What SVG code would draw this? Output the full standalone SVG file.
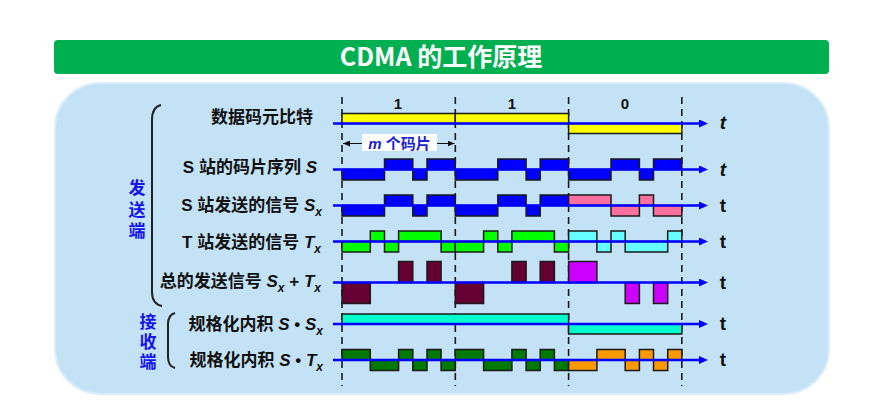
<svg xmlns="http://www.w3.org/2000/svg" width="896" height="404" viewBox="0 0 896 404">
<defs>
<style>
.lbl{font-family:"Liberation Sans","Noto Sans CJK SC",sans-serif;font-weight:bold;font-size:17px;fill:#111;}
.it{font-style:italic;}
.sub{font-size:12px;font-style:italic;}
.grp{font-family:"Noto Sans CJK SC",sans-serif;font-weight:bold;font-size:17px;fill:#1414F0;writing-mode:vertical-rl;}
.tl{font-family:"Liberation Sans",sans-serif;font-weight:bold;font-size:19px;fill:#111;text-anchor:middle;}
.bit{font-family:"Liberation Sans",sans-serif;font-weight:bold;font-size:15px;fill:#111;text-anchor:middle;}
.w rect{stroke:#1a1a1a;stroke-width:1.5;}
.axis{stroke:#0000FF;stroke-width:2.5;marker-end:url(#ah);}
.dash{stroke:#1a1a1a;stroke-width:1.6;stroke-dasharray:7 5;}
</style>
<marker id="ah" markerUnits="userSpaceOnUse" markerWidth="10" markerHeight="8" refX="1" refY="4" orient="auto" viewBox="0 0 10 8">
<path d="M0,0 L9,4 L0,8 Z" fill="#0000FF"/>
</marker>
<marker id="sa" markerUnits="userSpaceOnUse" markerWidth="7" markerHeight="6" refX="7" refY="3" orient="auto-start-reverse" viewBox="0 0 7 6">
<path d="M0,0 L7,3 L0,6 Z" fill="#111"/>
</marker>
</defs>

<g id="background">
<rect x="55" y="83" width="774" height="311" rx="45" fill="#C4E2F6" stroke="#DCEEFB" stroke-width="2"/>
</g>

<g id="title">
<rect x="54" y="40" width="775" height="34" rx="4" fill="#00B050"/>
<text x="441" y="66" font-family="Noto Sans CJK SC,sans-serif" font-weight="bold" font-size="25" fill="#fff" text-anchor="middle">CDMA 的工作原理</text>
</g>

<g id="dashes">
<line class="dash" x1="342" y1="97" x2="342" y2="386"/>
<line class="dash" x1="455.3" y1="97" x2="455.3" y2="386"/>
<line class="dash" x1="568.6" y1="97" x2="568.6" y2="386"/>
<line class="dash" x1="681.8" y1="97" x2="681.8" y2="386"/>
</g>

<g id="bits">
<text class="bit" x="398" y="109">1</text>
<text class="bit" x="512" y="109">1</text>
<text class="bit" x="625" y="109">0</text>
</g>

<g id="chip-span">
<line x1="343" y1="143.5" x2="454.5" y2="143.5" stroke="#111" stroke-width="1" marker-start="url(#sa)" marker-end="url(#sa)"/>
<rect x="362" y="134" width="75" height="17" fill="#fff"/>
<text x="399.5" y="149" font-family="Liberation Sans,Noto Sans CJK SC,sans-serif" font-weight="bold" font-size="15" fill="#1E1ED2" text-anchor="middle"><tspan font-style="italic">m</tspan> 个码片</text>
</g>

<g id="row-data" class="w">
<rect x="342" y="113.5" width="113.3" height="10" fill="#FFFF00"/>
<rect x="455.3" y="113.5" width="113.3" height="10" fill="#FFFF00"/>
<rect x="568.6" y="123.5" width="113.2" height="10" fill="#FFFF00"/>
</g>

<g id="row-S" class="w" fill="#0000FF">
<rect x="342" y="169.5" width="42.5" height="10.5"/>
<rect x="384.5" y="159" width="28.3" height="10.5"/>
<rect x="412.8" y="169.5" width="14.2" height="10.5"/>
<rect x="427" y="159" width="28.3" height="10.5"/>
<rect x="455.3" y="169.5" width="42.5" height="10.5"/>
<rect x="497.8" y="159" width="28.3" height="10.5"/>
<rect x="526.1" y="169.5" width="14.1" height="10.5"/>
<rect x="540.2" y="159" width="28.4" height="10.5"/>
<rect x="568.6" y="169.5" width="42.4" height="10.5"/>
<rect x="611" y="159" width="28.4" height="10.5"/>
<rect x="639.4" y="169.5" width="14.1" height="10.5"/>
<rect x="653.5" y="159" width="28.3" height="10.5"/>
</g>

<g id="row-Sx" class="w">
<g fill="#0000FF">
<rect x="342" y="205.5" width="42.5" height="10.5"/>
<rect x="384.5" y="195" width="28.3" height="10.5"/>
<rect x="412.8" y="205.5" width="14.2" height="10.5"/>
<rect x="427" y="195" width="28.3" height="10.5"/>
<rect x="455.3" y="205.5" width="42.5" height="10.5"/>
<rect x="497.8" y="195" width="28.3" height="10.5"/>
<rect x="526.1" y="205.5" width="14.1" height="10.5"/>
<rect x="540.2" y="195" width="28.4" height="10.5"/>
</g>
<g fill="#FF6F9F">
<rect x="568.6" y="195" width="42.4" height="10.5"/>
<rect x="611" y="205.5" width="28.4" height="10.5"/>
<rect x="639.4" y="195" width="14.1" height="10.5"/>
<rect x="653.5" y="205.5" width="28.3" height="10.5"/>
</g>
</g>

<g id="row-Tx" class="w">
<g fill="#00FF00">
<rect x="342" y="241.5" width="28.3" height="10.5"/>
<rect x="370.3" y="231" width="14.2" height="10.5"/>
<rect x="384.5" y="241.5" width="14.1" height="10.5"/>
<rect x="398.6" y="231" width="42.5" height="10.5"/>
<rect x="441.1" y="241.5" width="14.2" height="10.5"/>
<rect x="455.3" y="241.5" width="28.3" height="10.5"/>
<rect x="483.6" y="231" width="14.2" height="10.5"/>
<rect x="497.8" y="241.5" width="14.1" height="10.5"/>
<rect x="511.9" y="231" width="42.5" height="10.5"/>
<rect x="554.4" y="241.5" width="14.2" height="10.5"/>
</g>
<g fill="#66FFFF">
<rect x="568.6" y="231" width="28.3" height="10.5"/>
<rect x="596.9" y="241.5" width="14.1" height="10.5"/>
<rect x="611" y="231" width="14.2" height="10.5"/>
<rect x="625.2" y="241.5" width="42.5" height="10.5"/>
<rect x="667.7" y="231" width="14.1" height="10.5"/>
</g>
</g>

<g id="row-sum" class="w">
<g fill="#660033">
<rect x="342" y="282.5" width="28.3" height="21"/>
<rect x="398.6" y="261.5" width="14.2" height="21"/>
<rect x="427" y="261.5" width="14.1" height="21"/>
<rect x="455.3" y="282.5" width="28.3" height="21"/>
<rect x="511.9" y="261.5" width="14.2" height="21"/>
<rect x="540.2" y="261.5" width="14.2" height="21"/>
</g>
<g fill="#CC00FF">
<rect x="568.6" y="261.5" width="28.3" height="21"/>
<rect x="625.2" y="282.5" width="14.2" height="21"/>
<rect x="653.5" y="282.5" width="14.2" height="21"/>
</g>
</g>

<g id="row-SSx" class="w" fill="#00FFCC">
<rect x="342" y="314" width="226.6" height="10"/>
<rect x="568.6" y="324" width="113.2" height="10"/>
</g>

<g id="row-STx" class="w">
<g fill="#007A00">
<rect x="342" y="349.5" width="28.3" height="10.5"/>
<rect x="370.3" y="360" width="28.3" height="10.5"/>
<rect x="398.6" y="349.5" width="14.2" height="10.5"/>
<rect x="412.8" y="360" width="14.2" height="10.5"/>
<rect x="427" y="349.5" width="14.1" height="10.5"/>
<rect x="441.1" y="360" width="14.2" height="10.5"/>
<rect x="455.3" y="349.5" width="28.3" height="10.5"/>
<rect x="483.6" y="360" width="28.3" height="10.5"/>
<rect x="511.9" y="349.5" width="14.2" height="10.5"/>
<rect x="526.1" y="360" width="14.1" height="10.5"/>
<rect x="540.2" y="349.5" width="14.2" height="10.5"/>
<rect x="554.4" y="360" width="14.2" height="10.5"/>
</g>
<g fill="#FF9900">
<rect x="568.6" y="360" width="28.3" height="10.5"/>
<rect x="596.9" y="349.5" width="28.3" height="10.5"/>
<rect x="625.2" y="360" width="14.2" height="10.5"/>
<rect x="639.4" y="349.5" width="14.1" height="10.5"/>
<rect x="653.5" y="360" width="14.2" height="10.5"/>
<rect x="667.7" y="349.5" width="14.1" height="10.5"/>
</g>
</g>

<g id="connectors">
<line class="axis" x1="333" y1="123.5" x2="700" y2="123.5"/>
<line class="axis" x1="333" y1="169.5" x2="700" y2="169.5"/>
<line class="axis" x1="333" y1="205.5" x2="700" y2="205.5"/>
<line class="axis" x1="333" y1="241.5" x2="700" y2="241.5"/>
<line class="axis" x1="333" y1="282.5" x2="700" y2="282.5"/>
<line class="axis" x1="333" y1="324" x2="700" y2="324"/>
<line class="axis" x1="333" y1="360" x2="700" y2="360"/>
<path d="M161,105 Q152,107 152,120 L152,292 Q152,304 162,306" fill="none" stroke="#222" stroke-width="2"/>
<path d="M175,313 Q168,315 168,324 L168,357 Q168,366 175,368" fill="none" stroke="#222" stroke-width="2"/>
</g>

<g id="t-labels">
<text class="tl it" x="723" y="129">t</text>
<text class="tl it" x="723" y="175.5">t</text>
<text class="tl" x="723" y="211.5">t</text>
<text class="tl" x="723" y="247.5">t</text>
<text class="tl" x="723" y="288.5">t</text>
<text class="tl" x="723" y="330">t</text>
<text class="tl" x="723" y="366">t</text>
</g>

<g id="labels">
<text class="lbl" x="313" y="123" text-anchor="end">数据码元比特</text>
<text class="lbl" x="317" y="173" text-anchor="end">S 站的码片序列 <tspan class="it">S</tspan></text>
<text class="lbl" x="322" y="211" text-anchor="end">S 站发送的信号 <tspan class="it">S</tspan><tspan class="sub" dy="5">x</tspan></text>
<text class="lbl" x="321" y="248" text-anchor="end">T 站发送的信号 <tspan class="it">T</tspan><tspan class="sub" dy="5">x</tspan></text>
<text class="lbl" x="321" y="287" text-anchor="end">总的发送信号 <tspan class="it">S</tspan><tspan class="sub" dy="5">x</tspan><tspan dy="-5"> + </tspan><tspan class="it">T</tspan><tspan class="sub" dy="5">x</tspan></text>
<text class="lbl" x="323" y="329.5" text-anchor="end">规格化内积 <tspan class="it">S</tspan> • <tspan class="it">S</tspan><tspan class="sub" dy="5">x</tspan></text>
<text class="lbl" x="323" y="365.5" text-anchor="end">规格化内积 <tspan class="it">S</tspan> • <tspan class="it">T</tspan><tspan class="sub" dy="5">x</tspan></text>
</g>

<g id="group-send">
<text class="grp" x="137" y="179.5" letter-spacing="4.5">发送端</text>
</g>
<g id="group-recv">
<text class="grp" x="148" y="313.5" letter-spacing="3">接收端</text>
</g>
</svg>
